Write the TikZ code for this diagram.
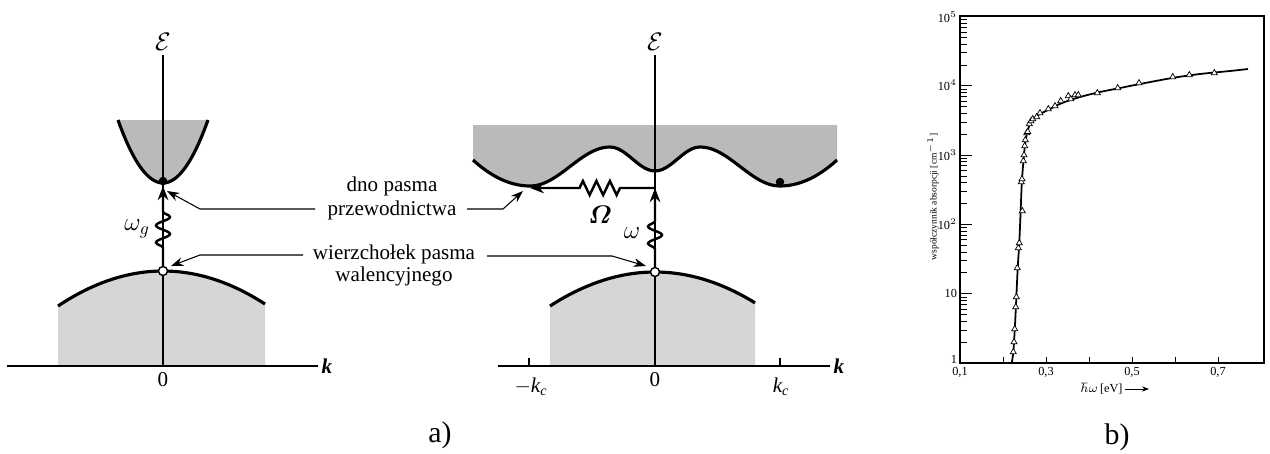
\documentclass[tikz,border=0pt]{standalone}
\usepackage{amsmath}
\usepackage{fontspec}
\setmainfont{Liberation Serif}
\usetikzlibrary{arrows.meta,decorations.pathmorphing,shapes.geometric,calc}
\begin{document}
\begin{tikzpicture}[x=0.02cm,y=-0.02cm,
  band/.style={line width=1.8pt},
  axisline/.style={line width=0.8pt},
  condfill/.style={fill=black!27},
  valfill/.style={fill=black!16},
  note/.style={line width=0.6pt,-{Stealth[length=7pt,width=5pt]}},
  lbl/.style={font=\fontsize{12}{14}\selectfont,align=center,inner sep=0pt},
  symb/.style={font=\fontsize{14}{16}\selectfont,inner sep=0pt},
  epsl/.style={font=\fontsize{14}{16}\selectfont,inner sep=0pt},
  fulldot/.style={circle,fill=black,inner sep=0pt,minimum size=0.17cm},
  opendot/.style={circle,draw=black,fill=white,line width=0.8pt,inner sep=0pt,minimum size=0.18cm},
  wave/.style={line width=1.4pt,-{Stealth[length=8pt,width=6pt]},decorate,
    decoration={snake,amplitude=0.14cm,segment length=0.34cm,pre length=0.36cm,post length=0.5cm}},
  zz/.style={line width=1.4pt,-{Stealth[length=8pt,width=6pt]},decorate,
    decoration={zigzag,amplitude=0.14cm,segment length=0.27cm,pre length=0.7cm,post length=0.92cm}},
  plotlbl/.style={font=\fontsize{7}{8}\selectfont,inner sep=1pt},
  tri/.style={regular polygon,regular polygon sides=3,draw=black,fill=white,inner sep=0pt,minimum size=0.14cm,line width=0.4pt},
  capt/.style={font=\fontsize{17}{20}\selectfont,inner sep=0pt}
]
\useasboundingbox (0,0) rectangle (1270,453);

% ---------------- left panel ----------------
\fill[condfill] plot[domain=-45:45,samples=40] ({163+\x},{183-63*(\x/45)^2}) -- cycle;
\fill[valfill] (58,366) -- plot[domain=-105:102,samples=40] ({163+\x},{271+35*(\x/105)^2}) -- (265,366) -- cycle;
\coordinate (L0) at (7,366);
\coordinate (L1) at (318,366);
\coordinate (Ltop) at (163,55);
\coordinate (Lbot) at (163,366);
\draw[axisline] (L0) -- (L1);
\draw[axisline] (Ltop) -- (Lbot);
\draw[band] plot[domain=-45:45,samples=40] ({163+\x},{183-63*(\x/45)^2});
\draw[band] plot[domain=-105:102,samples=40] ({163+\x},{271+35*(\x/105)^2});
\node[fulldot] (cb1) at (163,181) {};
\node[opendot] (vb1) at (163,271) {};
\coordinate (tip1) at (163,186);
\draw[wave] (vb1.north) -- (tip1);
\node[symb] (wg) at (137,229) {$\omega_{g}$};
\node[epsl] (E1) at (163,42) {$\mathcal{E}$};
\node[lbl] (k1) at (327,366) {\itshape\bfseries k};
\node[lbl] (z1) at (163,380) {0};

% ---------------- labels in the middle ----------------
\node[lbl] (t1a) at (392,186) {dno pasma};
\node[lbl] (t1b) at (392,210) {przewodnictwa};
\node[lbl] (t2a) at (394,254) {wierzchołek pasma};
\node[lbl] (t2b) at (394,276) {walencyjnego};
\coordinate (a1s) at (315,209);
\coordinate (a1m) at (200,209);
\coordinate (a1t) at (167,191);
\draw[note] (a1s) -- (a1m) -- (a1t);
\coordinate (a2s) at (467,209);
\coordinate (a2m) at (503,209);
\coordinate (a2t) at (523,191);
\draw[note] (a2s) -- (a2m) -- (a2t);
\coordinate (a3s) at (303,255);
\coordinate (a3m) at (200,255);
\coordinate (a3t) at (171,266);
\draw[note] (a3s) -- (a3m) -- (a3t);
\coordinate (a4s) at (487,256);
\coordinate (a4m) at (612,256);
\coordinate (a4t) at (646,266);
\draw[note] (a4s) -- (a4m) -- (a4t);

% ---------------- right panel ----------------
\fill[condfill] (473,125) -- plot[domain=-182:-125,samples=15] ({655+\x},{186-26*((-\x-125)/57)^2})
  -- plot[domain=-125:-45,samples=25] ({655+\x},{166.5-19.5*cos(180*(-\x-45)/80)})
  -- plot[domain=-45:45,samples=25] ({655+\x},{159+12*cos(180*\x/45)})
  -- plot[domain=45:125,samples=25] ({655+\x},{166.5-19.5*cos(180*(\x-45)/80)})
  -- plot[domain=125:182,samples=15] ({655+\x},{186-26*((\x-125)/57)^2}) -- (837,125) -- cycle;
\fill[valfill] (550,366) -- plot[domain=-105:100,samples=40] ({655+\x},{272+34*(\x/105)^2}) -- (755,366) -- cycle;
\coordinate (R0) at (498,366);
\coordinate (R1) at (830,366);
\coordinate (Rtop) at (655,55);
\coordinate (Rbot) at (655,366);
\draw[axisline] (R0) -- (R1);
\draw[axisline] (Rtop) -- (Rbot);
\coordinate (kc1) at (529,366);
\coordinate (kc2) at (780,366);
\draw[axisline] (kc1) -- ++(0,-8);
\draw[axisline] (kc2) -- ++(0,-8);
\draw[band] plot[domain=-182:-125,samples=15] ({655+\x},{186-26*((-\x-125)/57)^2})
  -- plot[domain=-125:-45,samples=25] ({655+\x},{166.5-19.5*cos(180*(-\x-45)/80)})
  -- plot[domain=-45:45,samples=25] ({655+\x},{159+12*cos(180*\x/45)})
  -- plot[domain=45:125,samples=25] ({655+\x},{166.5-19.5*cos(180*(\x-45)/80)})
  -- plot[domain=125:182,samples=15] ({655+\x},{186-26*((\x-125)/57)^2});
\draw[band] plot[domain=-105:100,samples=40] ({655+\x},{272+34*(\x/105)^2});
\node[fulldot] (cb2) at (780,182) {};
\node[opendot] (vb2) at (655,272) {};
\coordinate (om) at (655,188);
\coordinate (omt) at (530,188);
\draw[wave] (vb2.north) -- (om);
\draw[zz] (om) -- (omt);
\node[symb] (Om) at (600,215) {$\boldsymbol{\varOmega}$};
\node[symb] (w2) at (632,233) {$\omega$};
\node[epsl] (E2) at (655,42) {$\mathcal{E}$};
\node[lbl] (k2) at (839,366) {\itshape\bfseries k};
\node[lbl] (z2) at (655,380) {0};
\node[lbl] (mk) at (531,387) {$-$\itshape k\textsubscript{c}};
\node[lbl] (pk) at (781,387) {\itshape k\textsubscript{c}};
\node[capt] (ca) at (440,435) {a)};

% ---------------- plot b ----------------
\coordinate (B00) at (960,363);
\coordinate (B10) at (1264,363);
\coordinate (B11) at (1264,16);
\coordinate (B01) at (960,16);
\draw[line width=0.6pt] (B00) -- (B10) -- (B11) -- (B01) -- cycle;
\foreach \d in {0,...,4}{
  \draw[line width=0.4pt] (960,{363-69.3*\d}) -- ++(12,0);
  \foreach \m in {2,...,9}{
    \draw[line width=0.4pt] (960,{363-69.3*(\d+ln(\m)/ln(10))}) -- ++(7,0);
  }
}
\foreach \v in {0.2,0.3,0.4,0.5,0.6,0.7}{
  \draw[line width=0.5pt] ({960+430*(\v-0.1)},363) -- ++(0,-6);
}
\node[plotlbl,anchor=east] (y0) at (959,359) {1};
\node[plotlbl,anchor=east] (y1) at (959,293) {10};
\node[plotlbl,anchor=east] (y2) at (959,224) {10$^{2}$};
\node[plotlbl,anchor=east] (y3) at (959,155) {10$^{3}$};
\node[plotlbl,anchor=east] (y4) at (959,85) {10$^{4}$};
\node[plotlbl,anchor=east] (y5) at (959,17) {10$^{5}$};
\node[plotlbl] (x1) at (960,372) {0,1};
\node[plotlbl] (x3) at (1046,372) {0,3};
\node[plotlbl] (x5) at (1132,372) {0,5};
\node[plotlbl] (x7) at (1218,372) {0,7};
\node[plotlbl,rotate=90,font=\fontsize{5.4}{7}\selectfont] (ytit) at (933,197) {współczynnik absorpcji [cm$^{-1}$]};
\node[plotlbl] (xtit) at (1102,389) {$\hbar\omega$\,[eV]};
\coordinate (xarr) at (1149,389);
\draw[line width=0.5pt,-{Stealth[length=4pt,width=3pt]}] (xtit.east) -- (xarr);
\draw[line width=1pt] plot[smooth,tension=0.5] coordinates {(1011.7,363) (1013.5,350) (1015.5,315) (1017.5,272) (1019.3,242) (1020.6,212) (1021.8,183) (1023.5,160) (1025,145) (1027,133) (1030,124) (1034,118) (1040,114) (1050,109) (1062,103) (1080,97) (1100,92) (1120,88) (1140,84) (1172,78) (1200,74) (1230,71) (1248,69)};
\foreach \x/\y [count=\i] in {1013.3/352, 1014/342, 1014.7/329, 1015.7/307, 1016.3/297, 1017.3/268, 1018.3/248, 1019.3/243, 1022.3/211, 1021.3/182, 1022/179, 1023.3/161, 1024/155, 1024.7/146, 1025.3/140, 1026.7/133, 1027.7/131.7, 1029.3/124, 1031/121, 1032.7/119, 1036.7/117, 1040/113, 1048.3/109, 1055/106, 1060.7/101, 1068.3/96, 1070.7/99, 1075/95, 1078.3/95, 1097.3/93, 1117.7/88, 1139/83, 1172.7/77, 1189.3/75, 1214.3/73}{
  \node[tri] (m\i) at (\x,\y) {};
}
\node[capt] (cb) at (1117,437) {b)};
\end{tikzpicture}
\end{document}
